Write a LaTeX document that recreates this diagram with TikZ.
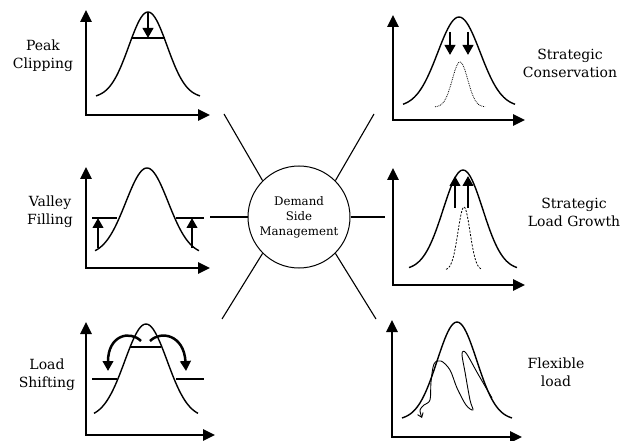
\documentclass[tikz,border=0pt]{standalone}
\usepackage{fontspec}
\setmainfont{DejaVu Serif}
\usepackage{tikz}
\usetikzlibrary{arrows.meta}

\begin{document}
\begin{tikzpicture}[x=1pt,y=-1pt,
  axes/.style={line width=2.5pt,{Triangle[length=12pt,width=11pt]}-{Triangle[length=12pt,width=11pt]}},
  bar/.style={line width=2.5pt},
  move/.style={line width=2.5pt,-{Triangle[length=10pt,width=10.5pt]}},
  curve/.style={line width=1.4pt},
  spoke/.style={line width=1.1pt},
  lbl/.style={align=center,font=\fontsize{14}{18}\selectfont}]
\useasboundingbox (0,0) rectangle (622,441);

              %hub
  \node[draw,circle,line width=1pt,minimum size=102pt,inner sep=0pt,align=center,
        font=\fontsize{11.8}{15}\selectfont] (dsm) at (299,217) {Demand\\Side\\Management};
  \coordinate (sUL) at (224,114);
  \coordinate (sUR) at (374,114);
  \coordinate (sL) at (210,217);
  \coordinate (sR) at (385,217);
  \coordinate (sLL) at (222,319);
  \coordinate (sLR) at (376,319);
  \draw[spoke] (dsm.135) -- (sUL);
  \draw[spoke] (dsm.45) -- (sUR);
  \draw[spoke] (dsm.180) -- (sL);
  \draw[spoke] (dsm.0) -- (sR);
  \draw[spoke] (dsm.225) -- (sLL);
  \draw[spoke] (dsm.315) -- (sLR);

   %Peak Clipping
  \coordinate (PCo) at (86,115);
  \coordinate (PCy) at (86,10);
  \coordinate (PCx) at (210,115);
  \coordinate (PCbl) at (132,38);
  \coordinate (PCbr) at (165,38);
  \coordinate (PCt) at (148,12);
  \coordinate (PCh) at (148,38);
  \draw[axes] (PCy) -- (PCo) -- (PCx);
  \draw[curve] plot[domain=-52:52,samples=61] ({148+\x},{98-86*exp(-((\x/27)^2))});
  \draw[bar] (PCbl) -- (PCbr);
  \draw[move] (PCt) -- (PCh);
  \node[lbl] (PClab) at (43,56) {Peak\\Clipping};

   %Valley Filling
  \coordinate (VFo) at (86,268);
  \coordinate (VFy) at (86,167);
  \coordinate (VFx) at (210,268);
  \coordinate (VFa) at (92,218);
  \coordinate (VFb) at (117,218);
  \coordinate (VFc) at (176,218);
  \coordinate (VFd) at (204,218);
  \coordinate (VFe) at (98,248);
  \coordinate (VFf) at (98,218);
  \coordinate (VFg) at (192,248);
  \coordinate (VFh) at (192,218);
  \draw[axes] (VFy) -- (VFo) -- (VFx);
  \draw[curve] plot[domain=-52:52,samples=61] ({147+\x},{255-87*exp(-((\x/30)^2))});
  \draw[bar] (VFa) -- (VFb);
  \draw[bar] (VFc) -- (VFd);
  \draw[move] (VFe) -- (VFf);
  \draw[move] (VFg) -- (VFh);
  \node[lbl] (VFlab) at (50,212) {Valley\\Filling};

   %Load Shifting
  \coordinate (LSo) at (86,435);
  \coordinate (LSy) at (86,322);
  \coordinate (LSx) at (215,435);
  \coordinate (LSa) at (92,379);
  \coordinate (LSb) at (117,379);
  \coordinate (LSc) at (176,379);
  \coordinate (LSd) at (204,379);
  \coordinate (LSbl) at (130,347);
  \coordinate (LSbr) at (161,347);
  \coordinate (LSp) at (141,341);
  \coordinate (LSq) at (108,371);
  \coordinate (LSr) at (150,341);
  \coordinate (LSs) at (186,371);
  \draw[axes] (LSy) -- (LSo) -- (LSx);
  \draw[curve] plot[domain=-52:52,samples=61] ({146+\x},{418-94*exp(-((\x/30)^2))});
  \draw[bar] (LSa) -- (LSb);
  \draw[bar] (LSc) -- (LSd);
  \draw[bar] (LSbl) -- (LSbr);
  \draw[move] (LSp) .. controls (130,330) and (108,335) .. (LSq);
  \draw[move] (LSr) .. controls (161,330) and (184,335) .. (LSs);
  \node[lbl] (LSlab) at (47,375) {Load\\Shifting};

%Strategic Conservation
  \coordinate (SCo) at (393,120);
  \coordinate (SCy) at (393,15);
  \coordinate (SCx) at (525,120);
  \coordinate (SCa) at (450,32);
  \coordinate (SCb) at (450,55);
  \coordinate (SCc) at (468,32);
  \coordinate (SCd) at (468,55);
  \draw[axes] (SCy) -- (SCo) -- (SCx);
  \draw[curve] plot[domain=-56:56,samples=61] ({459+\x},{107-90*exp(-((\x/30)^2))});
  \draw[densely dotted,line width=0.8pt] plot[domain=-25:25,samples=41] ({460+\x},{107-45*exp(-((\x/11)^2))});
  \draw[move] (SCa) -- (SCb);
  \draw[move] (SCc) -- (SCd);
  \node[lbl] (SClab) at (570,63) {Strategic\\Conservation};

%Strategic Load Growth
  \coordinate (SGo) at (393,285);
  \coordinate (SGy) at (393,168);
  \coordinate (SGx) at (525,285);
  \coordinate (SGa) at (455,208);
  \coordinate (SGb) at (455,176);
  \coordinate (SGc) at (468,208);
  \coordinate (SGd) at (468,176);
  \draw[axes] (SGy) -- (SGo) -- (SGx);
  \draw[curve] plot[domain=-54:54,samples=61] ({463+\x},{270-100*exp(-((\x/28)^2))});
  \draw[dash pattern=on 2pt off 1.5pt,line width=0.8pt] plot[domain=-18:18,samples=41] ({464+\x},{270-63*exp(-((\x/8.5)^2))});
  \draw[move] (SGa) -- (SGb);
  \draw[move] (SGc) -- (SGd);
  \node[lbl] (SGlab) at (574,212) {Strategic\\Load Growth};

%Flexible load
  \coordinate (FLo) at (392,437);
  \coordinate (FLy) at (392,320);
  \coordinate (FLx) at (522,437);
  \draw[axes] (FLy) -- (FLo) -- (FLx);
  \draw[curve] plot[domain=-55:55,samples=61] ({457+\x},{420-98*exp(-((\x/28)^2))});
  \draw[line width=0.9pt,-{Straight Barb[length=4pt,width=6pt]}] plot[smooth,tension=0.55] coordinates
    {(492,398) (478,374) (466,353) (462,354) (465,372) (470,400) (473,410) (466,405) (457,388) (450,370) (441,361) (434,364) (431,382) (430,400) (424,405) (420,410) (422,418)};
  \node[lbl] (FLlab) at (556,372) {Flexible\\load};

\end{tikzpicture}
\end{document}
